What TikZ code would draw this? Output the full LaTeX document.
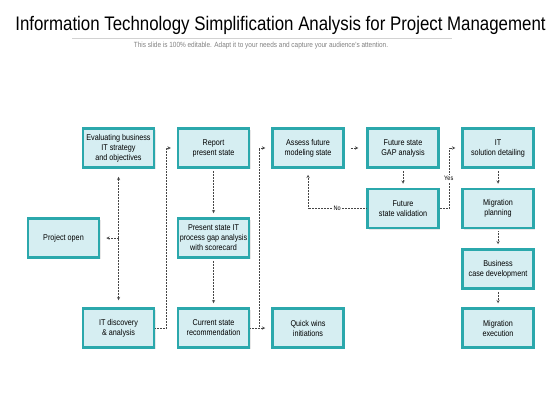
\documentclass[tikz,border=0pt]{standalone}
\usepackage{fontspec}
\setmainfont{Liberation Sans}
\newfontfamily\narrowfont[FakeStretch=0.86]{Liberation Sans}
\usetikzlibrary{shadows}
\definecolor{tealedge}{RGB}{43,168,172}
\definecolor{tealfill}{RGB}{214,238,242}
\definecolor{flowgray}{RGB}{70,70,70}
\tikzset{
  stage/.style={draw=tealedge,fill=tealfill,line width=2.5pt,align=center,
    minimum width=71pt,minimum height=39pt,inner sep=1pt,
    font=\narrowfont\fontsize{8.4}{10}\selectfont,
    drop shadow={shadow xshift=1.5pt,shadow yshift=-1.5pt,opacity=0.18}},
  flow/.style={draw=flowgray,densely dotted,line width=0.5pt},
  tag/.style={fill=white,inner sep=1pt,font=\narrowfont\fontsize{6.5}{7}\selectfont}
}

\begin{document}
\begin{tikzpicture}[x=1pt,y=-1pt]
        \useasboundingbox (0,0) rectangle (560,420);
        % title
        \node[font=\narrowfont\fontsize{19.6}{22}\selectfont] (title) at (280.5,25) {Information Technology Simplification Analysis for Project Management};
        \draw[gray!35,line width=0.6pt] (72,38.5) -- (452,38.5);
        \node[font=\narrowfont\fontsize{7.5}{8}\selectfont,text=gray] (subtitle) at (261,46) {This slide is 100\% editable. Adapt it to your needs and capture your audience's attention.};
        % stages
        \node[stage] (evalbiz) at (118.5,148) {Evaluating business\\IT strategy\\and objectives};
        \node[stage] (report) at (213.5,148) {Report\\present state};
        \node[stage] (assess) at (308,148) {Assess future\\modeling state};
        \node[stage] (gapana) at (403,148) {Future state\\GAP analysis};
        \node[stage] (itsol) at (498,148) {IT\\solution detailing};
        \node[stage] (validation) at (403,208.5) {Future\\state validation};
        \node[stage] (migplan) at (498,208.5) {Migration\\planning};
        \node[stage] (projopen) at (63.5,238) {Project open};
        \node[stage] (presstate) at (213.5,238) {Present state IT\\process gap analysis\\with scorecard};
        \node[stage] (bizcase) at (498,269) {Business\\case development};
        \node[stage] (itdisc) at (118.5,328) {IT discovery\\\& analysis};
        \node[stage] (currstate) at (213.5,328) {Current state\\recommendation};
        \node[stage] (quickwins) at (308,328) {Quick wins\\initiations};
        \node[stage] (migexec) at (498,328) {Migration\\execution};
        % connectors
        \draw[flow,stealth-stealth,shorten <=8pt,shorten >=7pt] (evalbiz.south) -- (itdisc.north);
        \draw[flow,-stealth,shorten >=6pt] (evalbiz.south |- projopen.east) -- (projopen.east);
        \draw[flow,-stealth,shorten >=6pt] (itdisc.east) -- ++(11,0) |- (report.west);
        \draw[flow,-stealth,shorten <=2pt,shorten >=4pt] (report.south) -- (presstate.north);
        \draw[flow,-stealth,shorten <=2pt,shorten >=4pt] (presstate.south) -- (currstate.north);
        \draw[flow] (currstate.east) -- ++(9,0) coordinate (split);
        \draw[flow,-stealth,shorten >=6pt] (split) |- (assess.west);
        \draw[flow,-stealth,shorten >=6pt] (split) -- (quickwins.west);
        \draw[flow,-stealth,shorten <=6pt,shorten >=8pt] (assess.east) -- (gapana.west);
        \draw[flow,-stealth,shorten <=2pt,shorten >=4pt] (gapana.south) -- (validation.north);
        \draw[flow,-stealth,shorten >=6pt] (validation.west) -- (assess.south |- validation.west) node[tag,midway]{No} -- (assess.south);
        \draw[flow,-stealth,shorten >=6pt] (validation.east) -- ++(9,0) |- (itsol.west) node[tag,pos=0.25]{Yes};
        \draw[flow,-stealth,shorten <=2pt,shorten >=4pt] (itsol.south) -- (migplan.north);
        \draw[flow,-stealth,shorten <=2pt,shorten >=4pt] (migplan.south) -- (bizcase.north);
        \draw[flow,-stealth,shorten <=2pt,shorten >=4pt] (bizcase.south) -- (migexec.north);
\end{tikzpicture}
\end{document}
